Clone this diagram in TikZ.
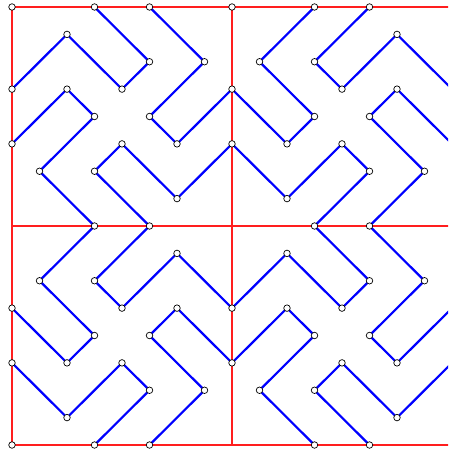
\documentclass[tikz,border=0pt]{standalone}
\definecolor{gridred}{RGB}{255,30,30}
\definecolor{pathblue}{RGB}{0,0,255}
\begin{document}
\begin{tikzpicture}[x=27.5pt,y=-27.375pt,
  gridline/.style={draw=gridred, line width=1.3pt},
  bluepath/.style={draw=pathblue, line width=2.2pt, line join=round, line cap=round},
  dot/.style={circle, draw=black, fill=white, line width=0.7pt, inner sep=0pt, minimum size=6.5pt}]
\useasboundingbox (-0.43636,-0.25571) rectangle (15.8545,16.3288);
\clip (-0.43636,-0.25571) rectangle (15.8545,16.3288);
\foreach \i in {0,...,16}{\foreach \j in {0,...,16}{\coordinate (p\i-\j) at (\i,\j);}}
% red frame and cross
\path[gridline] (p0-0) -- (p16-0) (p0-8) -- (p16-8) (p0-16) -- (p16-16)
  (p0-0) -- (p0-16) (p8-0) -- (p8-16) (p16-0) -- (p16-16);
% blue paths
\draw[bluepath] (p3-0) -- (p5-2) -- (p4-3) -- (p2-1) -- (p0-3);
\draw[bluepath] (p5-0) -- (p7-2) -- (p5-4) -- (p6-5) -- (p8-3) -- (p10-5) -- (p11-4) -- (p9-2) -- (p11-0);
\draw[bluepath] (p13-0) -- (p11-2) -- (p12-3) -- (p14-1) -- (p16-3);
\draw[bluepath] (p0-5) -- (p2-3) -- (p3-4) -- (p1-6) -- (p3-8) -- (p1-10) -- (p3-12) -- (p2-13) -- (p0-11);
\draw[bluepath] (p5-8) -- (p3-6) -- (p4-5) -- (p6-7) -- (p8-5) -- (p10-7) -- (p12-5) -- (p13-6) -- (p11-8) -- (p13-10) -- (p12-11) -- (p10-9) -- (p8-11) -- (p6-9) -- (p4-11) -- (p3-10) -- cycle;
\draw[bluepath] (p16-5) -- (p14-3) -- (p13-4) -- (p15-6) -- (p13-8) -- (p15-10) -- (p13-12) -- (p14-13) -- (p16-11);
\draw[bluepath] (p0-13) -- (p2-15) -- (p4-13) -- (p5-14) -- (p3-16);
\draw[bluepath] (p5-16) -- (p7-14) -- (p5-12) -- (p6-11) -- (p8-13) -- (p10-11) -- (p11-12) -- (p9-14) -- (p11-16);
\draw[bluepath] (p13-16) -- (p11-14) -- (p12-13) -- (p14-15) -- (p16-13);
% dots
\foreach \i/\j in {0/0,3/0,5/0,8/0,2/1,5/2,7/2,0/3,2/3,4/3,8/3,3/4,5/4,0/5,4/5,6/5,8/5,1/6,3/6,6/7,3/8,5/8,
  11/0,13/0,14/1,9/2,11/2,12/3,14/3,11/4,13/4,10/5,12/5,13/6,15/6,10/7,11/8,13/8,
  6/9,1/10,3/10,0/11,4/11,6/11,8/11,3/12,5/12,0/13,2/13,4/13,8/13,5/14,7/14,2/15,0/16,3/16,5/16,
  10/9,13/10,15/10,10/11,12/11,11/12,13/12,12/13,14/13,9/14,11/14,14/15,11/16,13/16}
  {\node[dot] (d\i-\j) at (p\i-\j) {};}
\end{tikzpicture}
\end{document}
